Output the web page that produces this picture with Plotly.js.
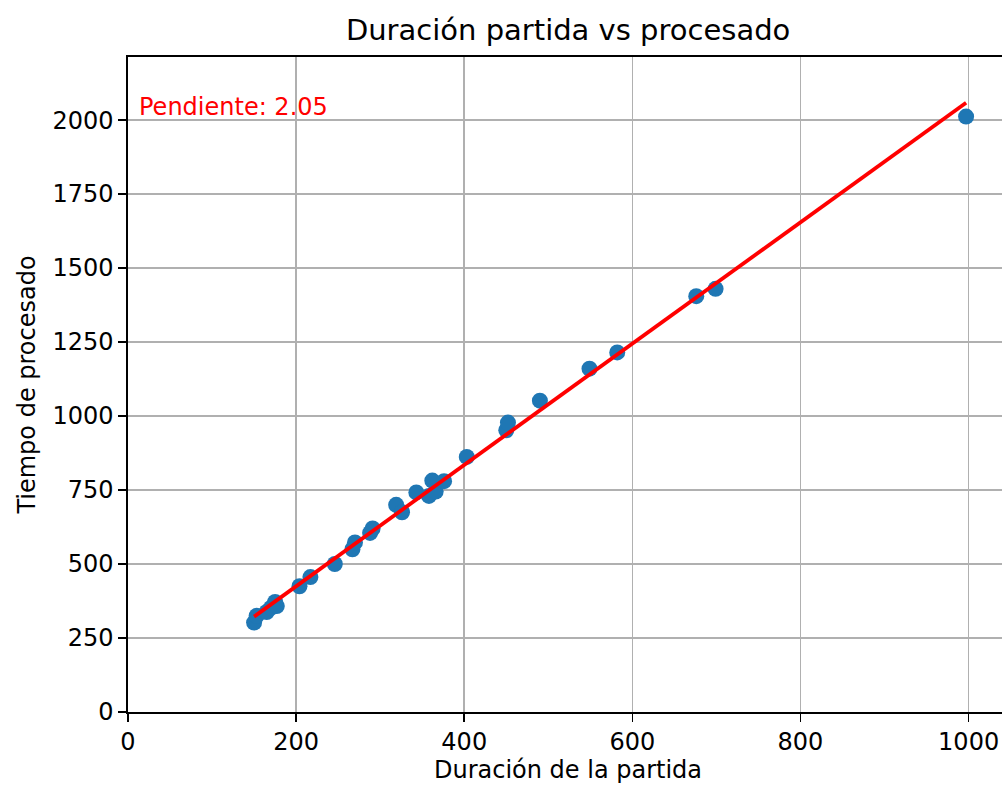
<!DOCTYPE html>
<html>
<head>
<meta charset="utf-8">
<script src="https://cdn.plot.ly/plotly-3.0.1.min.js"></script>
<style>
html, body { margin: 0; padding: 0; overflow: hidden; background: #fff; width: 1002px; height: 787px; }
#chart { width: 1010px; height: 787px; }
</style>
</head>
<body>
<div id="chart"></div>
<script>
// Data
const duracion = [150, 153, 165, 170, 175, 177, 204, 217, 246, 267, 270, 288, 291, 319, 326, 343, 358, 362, 366, 376, 403, 450, 452, 490, 549, 582, 676, 699, 997];
const procesado = [302, 325, 338, 352, 372, 358, 425, 456, 500, 550, 573, 605, 620, 700, 675, 742, 730, 782, 745, 780, 862, 952, 978, 1052, 1160, 1215, 1405, 1430, 2012];
const pendiente = 2.05;
const xTicks = [0, 200, 400, 600, 800, 1000];
const yTicks = [0, 250, 500, 750, 1000, 1250, 1500, 1750, 2000];

const mean = a => a.reduce((s, v) => s + v, 0) / a.length;
const intercepto = mean(procesado) - pendiente * mean(duracion);
const xMin = Math.min(...duracion), xMax = Math.max(...duracion);
const lineX = [xMin, xMax];
const lineY = lineX.map(v => pendiente * v + intercepto);

const font = "DejaVu Sans, Verdana, sans-serif";

const traces = [
  {
    x: duracion, y: procesado, type: 'scatter', mode: 'markers',
    marker: { color: '#1f77b4', size: 16, line: { width: 0 } },
    hoverinfo: 'x+y', showlegend: false
  },
  {
    x: lineX, y: lineY, type: 'scatter', mode: 'lines',
    line: { color: 'red', width: 3.8 }, showlegend: false
  }
];

const axisCommon = {
  showline: true, linecolor: '#000', linewidth: 1.6, mirror: true,
  ticks: 'outside', ticklen: 8, tickwidth: 1.6, tickcolor: '#000',
  showgrid: true, gridcolor: '#b0b0b0', gridwidth: 1.6,
  zeroline: false, tickfont: { family: font, size: 24, color: '#000' }
};

const layout = {
  width: 1010, height: 787,
  margin: { l: 128, r: 2, t: 57, b: 75 },
  paper_bgcolor: '#fff', plot_bgcolor: '#fff',
  title: { text: 'Duración partida vs procesado', font: { family: font, size: 29, color: '#000' }, x: 0.5625, xanchor: 'center', y: 0.962, yanchor: 'middle' },
  xaxis: Object.assign({}, axisCommon, {
    range: [0, xMax * 1.05], tickvals: xTicks, ticktext: xTicks.map(String),
    title: { text: 'Duración de la partida', font: { family: font, size: 24, color: '#000' }, standoff: 4 }
  }),
  yaxis: Object.assign({}, axisCommon, {
    range: [0, Math.max(...procesado) * 1.1], tickvals: yTicks, ticktext: yTicks.map(String),
    title: { text: 'Tiempo de procesado', font: { family: font, size: 24, color: '#000' }, standoff: 10 }
  }),
  annotations: [{
    xref: 'paper', yref: 'paper', x: 0.01, y: 0.924, xanchor: 'left', yanchor: 'middle',
    text: 'Pendiente: ' + pendiente.toFixed(2), showarrow: false,
    font: { family: font, size: 24, color: 'red' }
  }]
};

Plotly.newPlot('chart', traces, layout, { displayModeBar: false, staticPlot: true });
</script>
</body>
</html>
